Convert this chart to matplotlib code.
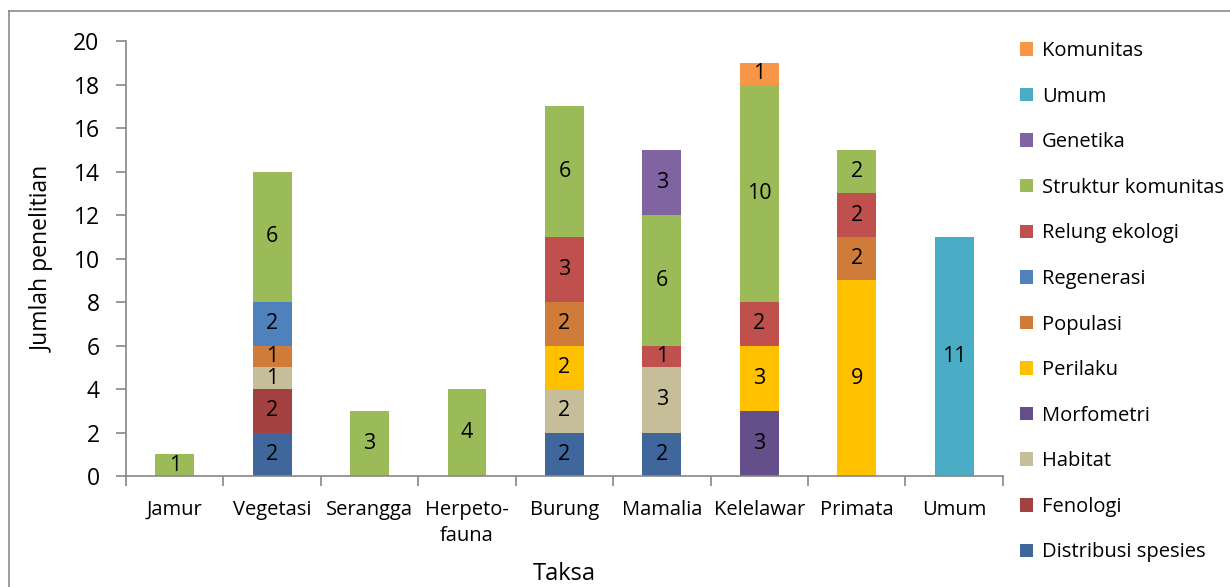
import matplotlib
matplotlib.use('Agg')
import matplotlib.pyplot as plt
import numpy as np
from matplotlib.lines import Line2D

# categories (Taksa)
taksa = ['Jamur', 'Vegetasi', 'Serangga', 'Herpeto-\nfauna', 'Burung',
         'Mamalia', 'Kelelawar', 'Primata', 'Umum']

# series, bottom to top
distribusi = [0, 2, 0, 0, 2, 2, 0, 0, 0]
fenologi = [0, 2, 0, 0, 0, 0, 0, 0, 0]
habitat = [0, 1, 0, 0, 2, 3, 0, 0, 0]
morfometri = [0, 0, 0, 0, 0, 0, 3, 0, 0]
perilaku = [0, 0, 0, 0, 2, 0, 3, 9, 0]
populasi = [0, 1, 0, 0, 2, 0, 0, 2, 0]
regenerasi = [0, 2, 0, 0, 0, 0, 0, 0, 0]
relung = [0, 0, 0, 0, 3, 1, 2, 2, 0]
struktur = [1, 6, 3, 4, 6, 6, 10, 2, 0]
genetika = [0, 0, 0, 0, 0, 3, 0, 0, 0]
umum = [0, 0, 0, 0, 0, 0, 0, 0, 11]
komunitas = [0, 0, 0, 0, 0, 0, 1, 0, 0]

series_names = ['Distribusi spesies', 'Fenologi', 'Habitat', 'Morfometri', 'Perilaku',
                'Populasi', 'Regenerasi', 'Relung ekologi', 'Struktur komunitas',
                'Genetika', 'Umum', 'Komunitas']
series_values = [distribusi, fenologi, habitat, morfometri, perilaku, populasi,
                 regenerasi, relung, struktur, genetika, umum, komunitas]
colors = ['#3F679C', '#A24140', '#C6BE98', '#644F8B', '#FFC000', '#CF7B39',
          '#4F81BD', '#C0504D', '#9BBB59', '#8064A2', '#4BACC6', '#F79646']

plt.rcParams['font.family'] = ['Open Sans', 'DejaVu Sans']

fig = plt.figure(figsize=(12.3, 5.87), dpi=100)
ax = fig.add_axes([0.1024, 0.189, 0.713, 0.741])

x = np.arange(len(taksa))
bottom = np.zeros(len(taksa))
handles = []
for name, vals, col in zip(series_names, series_values, colors):
    vals = np.array(vals, dtype=float)
    bars = ax.bar(x, vals, 0.4, bottom=bottom, color=col, label=name, linewidth=0)
    for xi, v, b in zip(x, vals, bottom):
        if v > 0:
            ax.text(xi, b + v / 2, '%d' % v, ha='center', va='center', fontsize=15.5, color='black')
    bottom += vals
    handles.append(bars)

ax.set_xlim(-0.5, len(taksa) - 0.5)
ax.set_ylim(0, 20)
ax.set_yticks(range(0, 21, 2))
ax.set_xticks(x)
ax.set_xticklabels(taksa, fontsize=14.5, linespacing=1.45)
ax.set_xticks(np.arange(-0.5, len(taksa), 1), minor=True)
ax.tick_params(axis='x', which='major', length=0, pad=17)
ax.tick_params(axis='x', which='minor', length=7, color='#868686', width=1.2)
ax.tick_params(axis='y', length=7, color='#868686', width=1.2, labelsize=16.5, pad=12)

for s in ['top', 'right']:
    ax.spines[s].set_visible(False)
for s in ['left', 'bottom']:
    ax.spines[s].set_color('#868686')
    ax.spines[s].set_linewidth(1.2)

ax.set_ylabel('Jumlah penelitian', fontsize=16.5, labelpad=13)
ax.set_xlabel('Taksa', fontsize=17, labelpad=11)

leg = fig.legend(handles[::-1], series_names[::-1], loc='upper left',
                 bbox_to_anchor=(0.829, 0.93), frameon=False, fontsize=14.5,
                 handlelength=0.65, handleheight=0.65, handletextpad=0.45,
                 labelspacing=1.27, borderaxespad=0, borderpad=0)

# outer chart frame
fig.add_artist(Line2D([8.5 / 1230, 8.5 / 1230], [0, 1 - 10.5 / 587], transform=fig.transFigure,
                      color='#8C8C8C', linewidth=1.2))
fig.add_artist(Line2D([8.5 / 1230, 1], [1 - 10.5 / 587, 1 - 10.5 / 587], transform=fig.transFigure,
                      color='#8C8C8C', linewidth=1.2))

fig.savefig('out.png', dpi=100)
